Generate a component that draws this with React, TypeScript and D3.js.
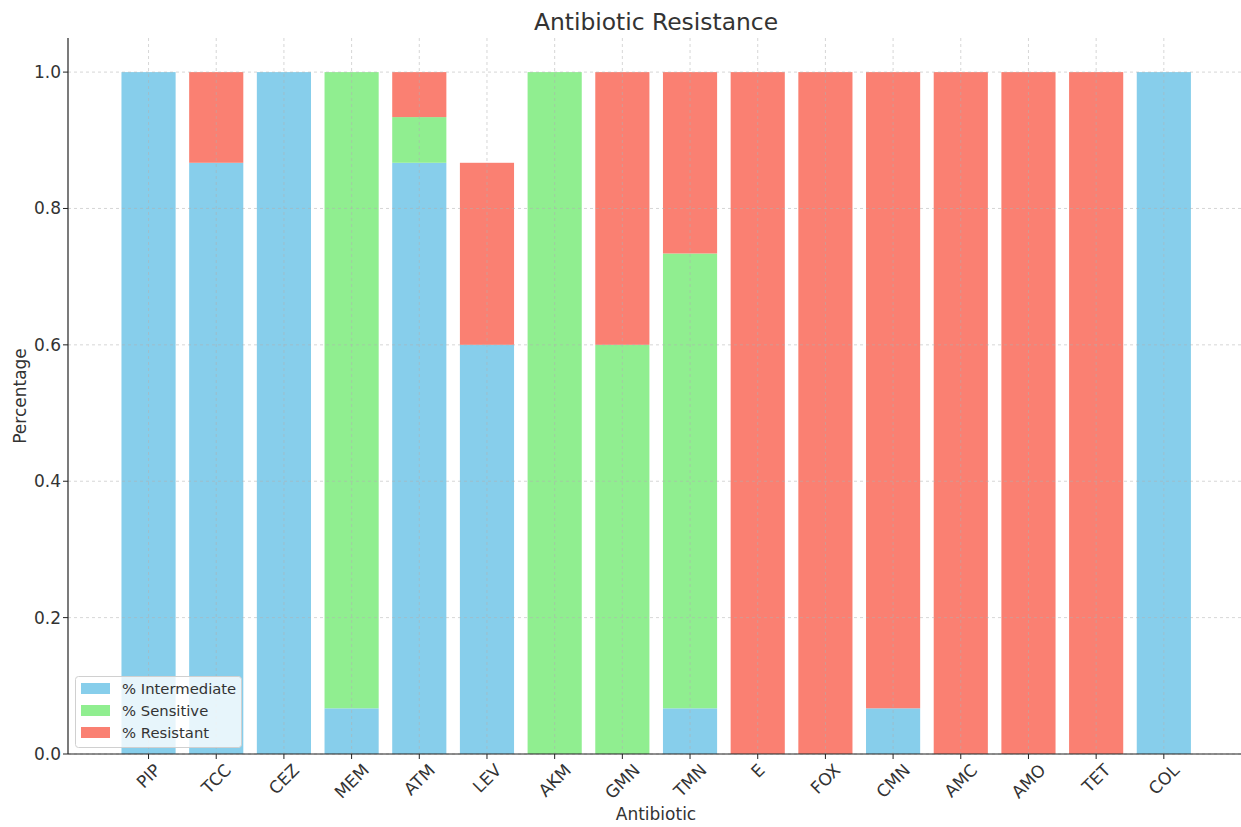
import React from "react";
import * as d3 from "d3";

const categories = ["PIP","TCC","CEZ","MEM","ATM","LEV","AKM","GMN","TMN","E","FOX","CMN","AMC","AMO","TET","COL"];
const intermediate = [1, 0.867, 1, 0.067, 0.867, 0.6, 0, 0, 0.067, 0, 0, 0.067, 0, 0, 0, 1];
const sensitive = [0, 0, 0, 0.933, 0.067, 0, 1, 0.6, 0.667, 0, 0, 0, 0, 0, 0, 0];
const resistant = [0, 0.133, 0, 0, 0.066, 0.267, 0, 0.4, 0.266, 1, 1, 0.933, 1, 1, 1, 0];
const seriesNames = ["% Intermediate", "% Sensitive", "% Resistant"];
const seriesColors = ["#87CEEB", "#90EE90", "#FA8072"];
const yTicks = [0, 0.2, 0.4, 0.6, 0.8, 1.0];

const W = 1241, H = 827;
const left = 68, right = 1241, top = 38, bottom = 754;
const FONT = "DejaVu Sans, sans-serif";

function measure(text: string, size: number): number {
  try {
    const c = document.createElement("canvas");
    const ctx = c.getContext("2d")!;
    ctx.font = `${size}px "DejaVu Sans"`;
    return ctx.measureText(text).width;
  } catch {
    return text.length * size * 0.65;
  }
}

export default function App() {
  const x = d3.scaleLinear().domain([-1.19, 16.14]).range([left, right]);
  const y = d3.scaleLinear().domain([0, 1.05]).range([bottom, top]);
  const step = x(1) - x(0);
  const bw = step * 0.8;

  const rows = categories.map((c, i) => ({ c, i, v: [intermediate[i], sensitive[i], resistant[i]] }));
  const stack = d3.stack<any>().keys(["0", "1", "2"]).value((d, k) => d.v[+k]);
  const stacked = stack(rows);

  return (
    <svg width={W} height={H} style={{ position: "absolute", left: 0, top: 0, fontFamily: FONT }}>
      <rect width={W} height={H} fill="#fff" />
      <text x={656} y={30} textAnchor="middle" fontSize={23.4} fill="#333">Antibiotic Resistance</text>
      {stacked.map((s, si) => (
        <g key={si} fill={seriesColors[si]}>
          {s.map((d, i) => d[1] - d[0] > 0 ? (
            <rect key={i} x={x(i) - bw / 2} width={bw} y={y(d[1])} height={y(d[0]) - y(d[1])} />
          ) : null)}
        </g>
      ))}
      <g stroke="#b0b0b0" strokeOpacity={0.65} strokeDasharray="3,3" strokeWidth={0.8}>
        {yTicks.map(t => <line key={"gy" + t} x1={left} x2={right} y1={y(t)} y2={y(t)} />)}
        {categories.map((c, i) => <line key={"gx" + c} x1={x(i)} x2={x(i)} y1={top} y2={bottom} />)}
      </g>
      <line x1={left} x2={left} y1={top} y2={bottom} stroke="#222" strokeWidth={1.2} />
      <line x1={left} x2={right} y1={bottom} y2={bottom} stroke="#222" strokeWidth={1.2} />
      {yTicks.map(t => (
        <g key={"yt" + t}>
          <line x1={left - 5} x2={left} y1={y(t)} y2={y(t)} stroke="#222" />
          <text x={left - 7} y={y(t)} dy="0.35em" textAnchor="end" fontSize={17} fill="#333">{t.toFixed(1)}</text>
        </g>
      ))}
      {categories.map((c, i) => {
        const w = measure(c, 17);
        const h = 17;
        const cy = bottom + 7 + (w + h) / (2 * Math.SQRT2);
        return (
          <g key={"xt" + c}>
            <line x1={x(i)} x2={x(i)} y1={bottom} y2={bottom + 5} stroke="#222" />
            <text x={x(i)} y={cy} textAnchor="middle" dominantBaseline="central" fontSize={17} fill="#333"
              transform={`rotate(-45 ${x(i)} ${cy})`}>{c}</text>
          </g>
        );
      })}
      <text x={656} y={820} textAnchor="middle" fontSize={17} fill="#333">Antibiotic</text>
      <text transform={`translate(26 ${(top + bottom) / 2}) rotate(-90)`} textAnchor="middle" fontSize={17} fill="#333">Percentage</text>
      <g>
        <rect x={75.5} y={676.5} width={166} height={71} rx={3} fill="#fff" fillOpacity={0.8} stroke="#d0d0d0" />
        {seriesNames.map((n, k) => (
          <g key={n}>
            <rect x={81} y={683 + k * 22} width={29} height={11} fill={seriesColors[k]} />
            <text x={122} y={689 + k * 22} dy="0.35em" fontSize={14.8} fill="#333">{n}</text>
          </g>
        ))}
      </g>
    </svg>
  );
}
